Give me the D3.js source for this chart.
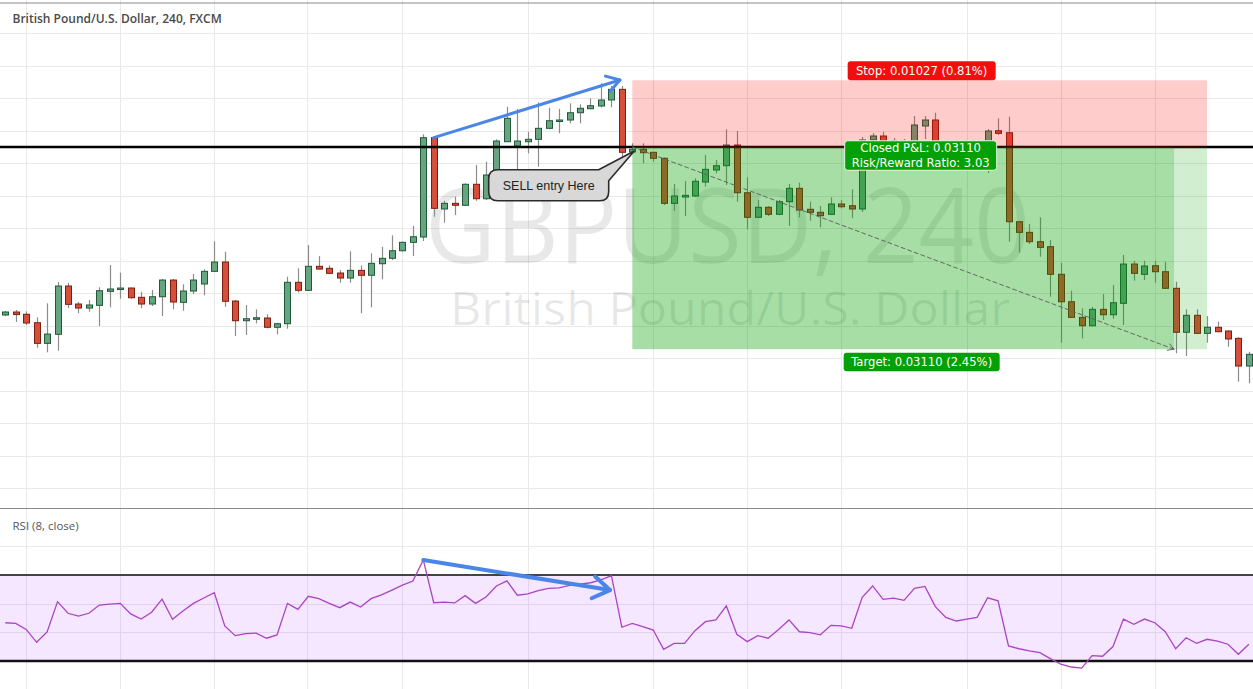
<!DOCTYPE html>
<html><head><meta charset="utf-8">
<script src="https://cdn.jsdelivr.net/npm/d3@7"></script>
<style>html,body{margin:0;padding:0;background:#fff;overflow:hidden}svg{display:block}</style>
</head><body>
<svg id="chart" width="1253" height="689"></svg>
<script>
const chartTitle = "British Pound/U.S. Dollar, 240, FXCM";
const watermarkMain = "GBPUSD, 240";
const watermarkSub = "British Pound/U.S. Dollar";
const rsiTitle = "RSI (8, close)";

const opens = [1.24166,1.24212,1.24177,1.24047,1.23730,1.23869,1.24612,1.24335,1.24273,1.24315,
1.24530,1.24561,1.24581,1.24438,1.24335,1.24447,1.24704,1.24361,1.24535,1.24643,
1.24838,1.24981,1.24381,1.24078,1.24100,1.24120,1.23977,1.24032,1.24669,1.24546,
1.24915,1.24884,1.24812,1.24735,1.24853,1.24777,1.24955,1.25038,1.25155,1.25284,
1.25366,1.26894,1.25797,1.25884,1.25854,1.26177,1.25955,1.26320,1.26832,1.26766,
1.26832,1.26869,1.27038,1.27150,1.27166,1.27278,1.27340,1.27381,1.27474,1.27638,
1.26674,1.26715,1.26669,1.26577,1.25884,1.25981,1.25997,1.26212,1.26397,1.26463,
1.26781,1.26047,1.25669,1.25823,1.25715,1.25909,1.26115,1.25792,1.25746,1.25715,
1.25874,1.25847,1.25797,1.26858,1.26920,1.26843,1.26812,1.26827,1.27074,1.27166,
1.26704,1.26550,1.26504,1.26535,1.26566,1.27001,1.26970,1.25601,1.25438,1.25294,
1.25217,1.24792,1.24370,1.24130,1.24001,1.24253,1.24170,1.24346,1.24950,1.24792,
1.24924,1.24832,1.24577,1.23900,1.24161,1.23884,1.23977,1.23920,1.23807,1.23381];

const highs = [1.24227,1.24243,1.24223,1.24130,1.24346,1.24673,1.24658,1.24366,1.24397,1.24592,
1.24935,1.24817,1.24589,1.24524,1.24550,1.24720,1.24720,1.24638,1.24797,1.24869,
1.25300,1.25140,1.24397,1.24320,1.24253,1.24177,1.24047,1.24755,1.24884,1.25243,
1.25073,1.24930,1.24858,1.25146,1.24930,1.25115,1.25217,1.25392,1.25297,1.25535,
1.26946,1.26912,1.25924,1.25986,1.26192,1.26474,1.26524,1.26869,1.27370,1.27335,
1.26986,1.27438,1.27355,1.27335,1.27423,1.27407,1.27500,1.27730,1.27689,1.27689,
1.26807,1.26807,1.26678,1.26592,1.26181,1.26227,1.26269,1.26627,1.26550,1.27023,
1.26997,1.26284,1.25935,1.25843,1.25935,1.26181,1.26201,1.25909,1.25843,1.25977,
1.25935,1.26100,1.26904,1.26966,1.26986,1.26889,1.26874,1.27227,1.27227,1.27278,
1.26735,1.26612,1.26597,1.26627,1.27027,1.27192,1.27217,1.25612,1.25566,1.25669,
1.25320,1.24970,1.24540,1.24269,1.24293,1.24489,1.24627,1.25089,1.25001,1.25001,
1.25001,1.24986,1.24678,1.24253,1.24253,1.24150,1.24063,1.23927,1.23823,1.23601];

const lows = [1.24150,1.24058,1.24012,1.23663,1.23592,1.23617,1.24273,1.24192,1.24217,1.23997,
1.24284,1.24417,1.24417,1.24273,1.24304,1.24150,1.24253,1.24232,1.24489,1.24469,
1.24827,1.24293,1.23843,1.23858,1.24038,1.23961,1.23869,1.23955,1.24515,1.24535,
1.24866,1.24800,1.24663,1.24663,1.24192,1.24284,1.24715,1.25012,1.25143,1.25073,
1.25304,1.25678,1.25586,1.25704,1.25843,1.25924,1.25935,1.26243,1.26827,1.26320,
1.26654,1.26447,1.27023,1.26961,1.27115,1.27115,1.27330,1.27361,1.27361,1.26601,
1.26654,1.26500,1.26524,1.25858,1.25770,1.25689,1.25981,1.26140,1.26346,1.26166,
1.25909,1.25484,1.25658,1.25689,1.25704,1.25535,1.25669,1.25617,1.25515,1.25704,
1.25807,1.25654,1.25750,1.26827,1.26812,1.26766,1.26766,1.26797,1.26874,1.26658,
1.26504,1.26458,1.26458,1.26474,1.26350,1.26935,1.25294,1.25124,1.25258,1.25063,
1.24447,1.23740,1.24120,1.23807,1.23989,1.24089,1.24109,1.24012,1.24694,1.24704,
1.24663,1.24566,1.23577,1.23535,1.23873,1.23740,1.23900,1.23678,1.23140,1.23115];

const closes = [1.24212,1.24173,1.24043,1.23730,1.23873,1.24612,1.24330,1.24273,1.24320,1.24540,
1.24566,1.24581,1.24432,1.24335,1.24447,1.24704,1.24366,1.24535,1.24704,1.24838,
1.24981,1.24377,1.24078,1.24109,1.24124,1.23977,1.24032,1.24669,1.24546,1.24915,
1.24873,1.24807,1.24735,1.24853,1.24777,1.24961,1.25038,1.25155,1.25284,1.25370,
1.26894,1.25807,1.25884,1.25854,1.26177,1.25955,1.26320,1.26843,1.27192,1.26843,
1.26869,1.27038,1.27155,1.27166,1.27278,1.27346,1.27386,1.27474,1.27638,1.26669,
1.26715,1.26663,1.26577,1.25884,1.25997,1.26007,1.26223,1.26407,1.26463,1.26781,
1.26047,1.25669,1.25823,1.25715,1.25909,1.26115,1.25781,1.25746,1.25694,1.25874,
1.25832,1.25797,1.26858,1.26920,1.26843,1.26812,1.26827,1.27089,1.27166,1.26704,
1.26550,1.26504,1.26535,1.26566,1.26997,1.26961,1.25601,1.25438,1.25294,1.25207,
1.24792,1.24370,1.24130,1.24001,1.24253,1.24170,1.24355,1.24950,1.24807,1.24920,
1.24832,1.24577,1.23900,1.24161,1.23884,1.23977,1.23909,1.23797,1.23381,1.23561];

const rsiValues = [47.8,47.5,44.7,38.7,43.5,57.6,52.2,50.9,52.2,56.0,
56.5,56.8,51.9,49.5,52.7,58.8,49.4,53.3,56.8,59.3,
61.8,46.3,41.8,42.7,43.0,40.6,42.1,56.8,54.0,60.1,
59.0,56.8,54.8,57.4,55.1,59.0,60.8,63.0,65.3,67.2,
77.0,57.1,57.4,57.0,60.4,56.8,59.8,64.9,67.3,60.6,
61.2,62.7,63.8,64.0,65.2,65.7,66.4,67.7,69.7,45.7,
47.5,46.0,44.4,35.4,38.2,38.2,44.1,48.3,49.1,55.6,
42.4,39.0,41.8,40.6,44.7,49.1,43.6,43.2,42.2,46.6,
46.3,45.2,59.6,64.9,58.7,59.2,58.2,63.8,64.7,55.3,
50.3,48.6,49.5,50.3,59.4,58.0,37.0,35.7,34.7,33.9,
31.1,28.5,27.2,26.7,32.5,32.2,36.7,49.5,47.1,49.5,
47.8,43.6,35.7,40.8,38.2,40.1,39.2,37.8,33.1,37.8];

const priceTicks = [1.215,1.220,1.225,1.230,1.235,1.240,1.245,1.250,1.255,1.260,1.265,1.270,1.275,1.280,1.285];
const rsiTicks = [30, 43.33, 56.67, 70, 83.33];
const rsiBands = [30, 70];
const timeGrid = [2, 11, 20, 28.9, 38, 50, 62, 71, 80, 92, 101, 110];

// short position tool
const entryPrice = 1.26750;
const stopDist = 0.01027;
const targetDist = 0.03110;
const entryIdx = 60, exitIdx = 111.85, endIdx = 115;
const stopText = "Stop: 0.01027 (0.81%)";
const targetText = "Target: 0.03110 (2.45%)";
const closedLines = ["Closed P&L: 0.03110", "Risk/Reward Ratio: 3.03"];
const calloutText = "SELL entry Here";
const calloutCenter = [52, 1.26162];
const priceArrow = [[41, 1.26894], [58.82, 1.27782]];
const rsiArrow = [[40, 77.0], [57.86, 63.0]];

const W = 1253, H = 689;
const svg = d3.select("#chart");
const x = d3.scaleLinear().domain([0, 119]).range([5.3, 1248.85]);
const y = d3.scaleLinear().domain([1.215, 1.285]).range([488.3, 33.3]);
const ry = d3.scaleLinear().domain([30, 70]).range([661, 575]);

svg.append("rect").attr("width", W).attr("height", H).attr("fill", "#fff");

// grid
const grid = svg.append("g").attr("stroke", "#e9e9e9").attr("stroke-width", 1);
grid.selectAll(".hg").data(priceTicks).join("line")
  .attr("x1", 0).attr("x2", W).attr("y1", d => Math.round(y(d)) + 0.5).attr("y2", d => Math.round(y(d)) + 0.5);
grid.selectAll(".vg").data(timeGrid).join("line")
  .attr("x1", d => Math.round(x(d)) + 0.5).attr("x2", d => Math.round(x(d)) + 0.5).attr("y1", 0).attr("y2", H);
grid.selectAll(".rg").data(rsiTicks).join("line")
  .attr("x1", 0).attr("x2", W).attr("y1", d => Math.round(ry(d)) + 0.5).attr("y2", d => Math.round(ry(d)) + 0.5);

// borders
svg.append("line").attr("x1", 0).attr("x2", W).attr("y1", 3).attr("y2", 3).attr("stroke", "#8a8a8a").attr("stroke-width", 1);
svg.append("line").attr("x1", 0).attr("x2", W).attr("y1", 508.5).attr("y2", 508.5).attr("stroke", "#8a8a8a").attr("stroke-width", 1.2);

// watermark
svg.append("text").attr("x", 425).attr("y", 263).attr("font-family", "'Open Sans', sans-serif")
  .attr("font-size", 104).attr("textLength", 605).attr("lengthAdjust", "spacingAndGlyphs")
  .attr("fill", "rgba(0,0,0,0.09)").text(watermarkMain);
svg.append("text").attr("x", 450).attr("y", 325).attr("font-family", "'Open Sans', sans-serif")
  .attr("font-size", 46).attr("textLength", 560).attr("lengthAdjust", "spacingAndGlyphs")
  .attr("fill", "rgba(0,0,0,0.09)").text(watermarkSub);

// RSI panel
svg.append("rect").attr("x", 0).attr("width", W).attr("y", ry(70)).attr("height", ry(30) - ry(70))
  .attr("fill", "rgba(153,21,255,0.1)");
svg.append("line").attr("x1", 0).attr("x2", W).attr("y1", ry(70)).attr("y2", ry(70)).attr("stroke", "#444").attr("stroke-width", 2);
svg.append("line").attr("x1", 0).attr("x2", W).attr("y1", ry(30)).attr("y2", ry(30)).attr("stroke", "#111").attr("stroke-width", 2.6);
svg.append("path").datum(rsiValues)
  .attr("d", d3.line().x((d, i) => x(i)).y(d => ry(d)))
  .attr("fill", "none").attr("stroke", "#aa44c4").attr("stroke-width", 1.3);
svg.append("text").attr("x", 12.5).attr("y", 529.5).attr("font-family", "'Open Sans', sans-serif")
  .attr("font-size", 11.5).attr("fill", "#555").text(rsiTitle);

// candles
const candles = opens.map((o, i) => ({i, o, h: highs[i], l: lows[i], c: closes[i]}));
const cg = svg.append("g");
cg.selectAll(".wick").data(candles).join("line")
  .attr("x1", d => Math.round(x(d.i)) + 0.5).attr("x2", d => Math.round(x(d.i)) + 0.5)
  .attr("y1", d => y(d.h)).attr("y2", d => y(d.l))
  .attr("stroke", "#8c8c8c").attr("stroke-width", 1.2);
cg.selectAll(".body").data(candles).join("rect")
  .attr("x", d => Math.round(x(d.i)) - 2.5).attr("width", 6)
  .attr("y", d => y(Math.max(d.o, d.c)))
  .attr("height", d => Math.max(1.5, Math.abs(y(d.o) - y(d.c))))
  .attr("fill", d => d.c >= d.o ? "#67a580" : "#d64f3b")
  .attr("stroke", d => d.c >= d.o ? "#21583a" : "#7a1f12").attr("stroke-width", 1);

// entry line
svg.append("line").attr("x1", 0).attr("x2", W).attr("y1", y(entryPrice)).attr("y2", y(entryPrice))
  .attr("stroke", "#000").attr("stroke-width", 2.6);

// position zones
const stopPrice = entryPrice + stopDist, targetPrice = entryPrice - targetDist;
svg.append("rect").attr("x", x(entryIdx)).attr("width", x(endIdx) - x(entryIdx))
  .attr("y", y(stopPrice)).attr("height", y(entryPrice) - y(stopPrice)).attr("fill", "rgba(255,0,0,0.2)");
svg.append("rect").attr("x", x(entryIdx)).attr("width", x(exitIdx) - x(entryIdx))
  .attr("y", y(entryPrice)).attr("height", y(targetPrice) - y(entryPrice)).attr("fill", "rgba(0,160,0,0.35)");
svg.append("rect").attr("x", x(exitIdx)).attr("width", x(endIdx) - x(exitIdx))
  .attr("y", y(entryPrice)).attr("height", y(targetPrice) - y(entryPrice)).attr("fill", "rgba(0,160,0,0.18)");

function arrowHead(g, x1, y1, x2, y2, len, ang, color, w, dash) {
  g.append("line").attr("x1", x1).attr("y1", y1).attr("x2", x2).attr("y2", y2)
    .attr("stroke", color).attr("stroke-width", w).attr("stroke-dasharray", dash || null).attr("stroke-linecap", "round");
  const th = Math.atan2(y1 - y2, x1 - x2);
  const p1 = [x2 + len * Math.cos(th + ang), y2 + len * Math.sin(th + ang)];
  const p2 = [x2 + len * Math.cos(th - ang), y2 + len * Math.sin(th - ang)];
  g.append("path").attr("d", `M${p1[0]},${p1[1]}L${x2},${y2}L${p2[0]},${p2[1]}`)
    .attr("fill", "none").attr("stroke", color).attr("stroke-width", w)
    .attr("stroke-linecap", "round").attr("stroke-linejoin", "round");
}

// dashed trade path
arrowHead(svg.append("g"), x(entryIdx), y(entryPrice), x(exitIdx), y(targetPrice), 7, 0.5, "#666", 1, "4,3");

// labels
const midX = x((entryIdx + endIdx) / 2);
function label(cx, top, w, h, fill, lines, stroke) {
  const g = svg.append("g");
  g.append("rect").attr("x", cx - w / 2).attr("y", top).attr("width", w).attr("height", h).attr("rx", 3)
    .attr("fill", fill).attr("stroke", stroke || "none").attr("stroke-width", 1);
  lines.forEach((t, k) => {
    g.append("text").attr("x", cx).attr("y", top + (h / lines.length) * (k + 0.5) + 4.2)
      .attr("text-anchor", "middle").attr("font-family", "'DejaVu Sans', sans-serif")
      .attr("font-size", 11.6).attr("fill", "#fff").text(t);
  });
}
label(midX + 2, y(stopPrice) - 19, 148, 19, "#f40d0d", [stopText]);
label(midX + 1, y(entryPrice) - 6.3, 152, 29.5, "#05a005", closedLines, "#e8f5e8");
label(midX + 2, y(targetPrice) + 3.5, 156, 18.5, "#05a005", [targetText]);

// callout
(function () {
  const cx = x(calloutCenter[0]), cy = y(calloutCenter[1]);
  const w = 120, h = 31, r = 9;
  const L = cx - w / 2, R = cx + w / 2, T = cy - h / 2, B = cy + h / 2;
  const tip = [x(entryIdx) + 2, y(entryPrice) + 4];
  const d = `M${L + r},${T} L${R - 10},${T} L${tip[0]},${tip[1]} L${R},${T + 11} L${R},${B - r} Q${R},${B} ${R - r},${B} L${L + r},${B} Q${L},${B} ${L},${B - r} L${L},${T + r} Q${L},${T} ${L + r},${T} Z`;
  svg.append("path").attr("d", d).attr("fill", "#d8d8d8").attr("stroke", "#2b2b2b").attr("stroke-width", 1.6)
    .attr("stroke-linejoin", "round");
  svg.append("text").attr("x", cx).attr("y", cy + 4.5).attr("text-anchor", "middle")
    .attr("font-family", "'Liberation Sans', Arial, sans-serif").attr("font-size", 12.5).attr("fill", "#222").text(calloutText);
})();

// blue divergence arrows
arrowHead(svg.append("g"), x(priceArrow[0][0]), y(priceArrow[0][1]), x(priceArrow[1][0]), y(priceArrow[1][1]), 15, 0.56, "#4a86e8", 3);
arrowHead(svg.append("g"), x(rsiArrow[0][0]), ry(rsiArrow[0][1]), x(rsiArrow[1][0]), ry(rsiArrow[1][1]), 20, 0.58, "#4a86e8", 4);

// title
svg.append("text").attr("x", 12.5).attr("y", 22.5).attr("font-family", "'Open Sans', sans-serif")
  .attr("font-size", 12).attr("font-weight", 600).attr("fill", "#4a4a4a").text(chartTitle);
</script>
</body></html>
